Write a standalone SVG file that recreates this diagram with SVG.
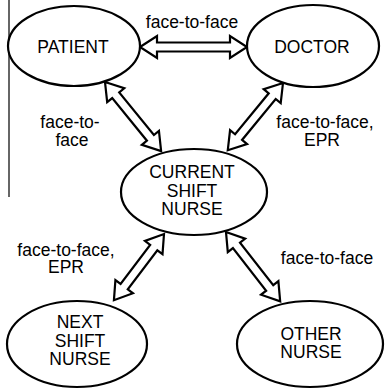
<svg xmlns="http://www.w3.org/2000/svg" width="385" height="391" viewBox="0 0 385 391">
<style>
.node ellipse{fill:#fff;stroke:#000;stroke-width:2.2}
text{font-family:"Liberation Sans",Arial,sans-serif;font-size:17.5px;fill:#000;text-anchor:middle}
.arr{fill:#fff;stroke:#000;stroke-width:2.2;stroke-linejoin:miter}
</style>
<rect width="385" height="391" fill="#fff"/>
<line x1="9" y1="0" x2="9" y2="197" stroke="#333" stroke-width="1.5"/>
<g id="connectors">
<polygon class="arr" transform="translate(140,47)" points="0,0 17,-11 17,-4.5 90,-4.5 90,-11 107,0 90,11 90,4.5 17,4.5 17,11"/>
<polygon class="arr" transform="translate(105,82) rotate(50.9)" points="0,0 17,-11 17,-4.5 72,-4.5 72,-11 89,0 72,11 72,4.5 17,4.5 17,11"/>
<polygon class="arr" transform="translate(283,83) rotate(129.4)" points="0,0 17,-11 17,-4.5 70,-4.5 70,-11 87,0 70,11 70,4.5 17,4.5 17,11"/>
<polygon class="arr" transform="translate(164,234) rotate(127.1)" points="0,0 17,-11 17,-4.5 66,-4.5 66,-11 83,0 66,11 66,4.5 17,4.5 17,11"/>
<polygon class="arr" transform="translate(226,232) rotate(52)" points="0,0 17,-11 17,-4.5 71,-4.5 71,-11 88,0 71,11 71,4.5 17,4.5 17,11"/>
<text x="192" y="28">face-to-face</text>
<text x="70" y="128">face-to-</text>
<text x="72" y="146">face</text>
<text x="325" y="128">face-to-face,</text>
<text x="322" y="146">EPR</text>
<text x="66" y="256">face-to-face,</text>
<text x="66" y="273">EPR</text>
<text x="327" y="264">face-to-face</text>
</g>
<g id="patient" class="node">
<ellipse cx="74" cy="46" rx="66" ry="40"/>
<text x="73" y="53">PATIENT</text>
</g>
<g id="doctor" class="node">
<ellipse cx="313" cy="46" rx="66" ry="41"/>
<text x="312" y="53">DOCTOR</text>
</g>
<g id="current" class="node">
<ellipse cx="194" cy="192" rx="73" ry="43"/>
<text x="192" y="178">CURRENT</text>
<text x="192" y="197">SHIFT</text>
<text x="192" y="215">NURSE</text>
</g>
<g id="next" class="node">
<ellipse cx="77" cy="344" rx="70" ry="43"/>
<text x="80" y="328">NEXT</text>
<text x="80" y="347">SHIFT</text>
<text x="80" y="365">NURSE</text>
</g>
<g id="other" class="node">
<ellipse cx="310" cy="344" rx="73" ry="43"/>
<text x="311" y="340">OTHER</text>
<text x="311" y="358">NURSE</text>
</g>
</svg>
